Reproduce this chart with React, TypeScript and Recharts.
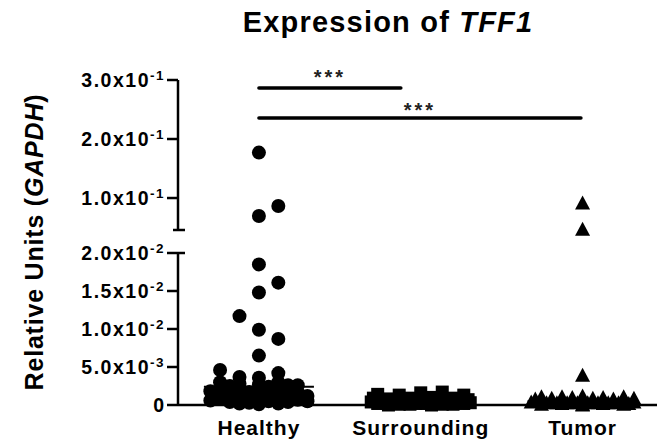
import React from "react";
import { ReferenceLine, Scatter, ScatterChart, XAxis, YAxis } from "recharts";

const FONT = "'Liberation Sans', Arial, sans-serif";
const W = 657;
const H = 443;

const CATEGORIES = ["Healthy", "Surrounding", "Tumor"];
// horizontal spread between neighbouring lanes, per group
const LANE_STEP = [0.12, 0.133, 0.127];

// [lane, relative units]
const healthy: [number, number][] = [
  [0, 0.177], [0, 0.0695], [1, 0.0864],
  [0, 0.0185], [1, 0.0161], [0, 0.0148], [-1, 0.0117], [0, 0.0099], [1, 0.0087], [0, 0.0065],
  [-2, 0.0046], [-1, 0.0037], [0, 0.0036], [1, 0.0042], [2, 0.0026],
  [-2, 0.003], [-1, 0.0028], [0, 0.0027], [1, 0.003], [-1.5, 0.0025], [0.5, 0.0024], [1.5, 0.0026],
  [-2.5, 0.0018], [-2, 0.0015], [-1, 0.002], [0, 0.0021], [1, 0.0019], [2, 0.0017], [2.5, 0.0012],
  [-1.5, 0.0016], [-0.5, 0.0017], [0.5, 0.0015], [1.5, 0.0014],
  [-2, 0.0008], [-1, 0.001], [0, 0.0009], [1, 0.0008], [2, 0.0007],
  [-2.5, 0.0006], [-1.5, 0.0004], [-0.5, 0.0003], [0.5, 0.0005], [1.5, 0.0004], [2.5, 0.0005], [0, 0.0001],
  [-1, 0.0002], [1, 0.0002],
];

const surrounding: [number, number][] = [
  [-2, 0.0014], [-1, 0.0013], [0, 0.0016], [1, 0.0017], [2, 0.0013],
  [-2.2, 0.0009], [-1.5, 0.0008], [-1, 0.0007], [-0.5, 0.0009], [0, 0.0008],
  [0.5, 0.001], [1, 0.0008], [1.5, 0.0009], [2, 0.0006], [2.2, 0.0007],
  [-2, 0.0002], [-1, 0.0001], [0, 0.0002], [1, 0.0001], [2, 0.0002],
  [-1.5, 0], [-0.5, 0.0001], [0.5, 0], [1.5, 0.0001], [-2.3, 0.0004], [2.3, 0.0003],
];

const tumor: [number, number][] = [
  [0, 0.0915], [0, 0.047], [0, 0.0039],
  [-2, 0.0011], [-1, 0.0011], [0, 0.0012], [1, 0.001], [2, 0.0011],
  [-2.3, 0.0008], [-1.5, 0.0009], [-0.5, 0.001], [0.5, 0.0009], [1.5, 0.0008], [2.5, 0.0009],
  [-2.5, 0.0004], [-1.5, 0.0006], [-0.5, 0.0005], [0.5, 0.0006], [1.5, 0.0005], [2.5, 0.0004],
  [-2, 0.0005], [-1, 0.0005], [0, 0.0006], [1, 0.0004], [2, 0.0006],
  [-1.75, 0.0003], [-1.25, 0.0003], [-0.75, 0.0003], [-0.25, 0.0003], [0.25, 0.0003], [0.75, 0.0003], [1.25, 0.0003], [1.75, 0.0003], [2.25, 0.0002],
  [-2, 0.0001], [-1, 0.0002], [0, 0.0001], [1, 0.0002], [2, 0.0001], [0, 0],
];

const MEDIANS = [0.0024, 0.0007, 0.0005];

const BREAK = 0.02;
const UPPER_DOMAIN = [0.0458, 0.3];
const UPPER_TICKS = [0.1, 0.2, 0.3];
const LOWER_DOMAIN = [0, 0.02];
const LOWER_TICKS = [0, 0.005, 0.01, 0.015, 0.02];

// significance brackets: [from category, to, y level, label]
const BRACKETS: [number, number, number, string][] = [
  [1, 1.877, 0.2864, "***"],
  [1, 2.99, 0.2356, "***"],
];

const toPoints = (rows: [number, number][], g: number, upper: boolean) =>
  rows
    .filter(([, v]) => (upper ? v > BREAK : v <= BREAK))
    .map(([lane, v]) => ({ x: g + 1 + lane * LANE_STEP[g], y: v }));

const Circle = (p: any) => <circle cx={p.cx} cy={p.cy} r={7} fill="#000" />;
const Square = (p: any) => <rect x={p.cx - 6.5} y={p.cy - 6.5} width={13} height={13} fill="#000" />;
const Triangle = (p: any) => (
  <polygon points={`${p.cx},${p.cy - 7.5} ${p.cx + 7.5},${p.cy + 6.5} ${p.cx - 7.5},${p.cy + 6.5}`} fill="#000" />
);
const SHAPES = [Circle, Square, Triangle];
const GROUPS = [healthy, surrounding, tumor];

function YTick(props: any) {
  const { x, y, payload } = props;
  const v = payload.value;
  const common = { fontFamily: FONT, fontWeight: "bold", fill: "#000", textAnchor: "end" as const };
  if (v === 0) {
    return (
      <text x={x - 1} y={y} dy={7} fontSize={19.5} {...common}>
        0
      </text>
    );
  }
  const exp = Math.floor(Math.log10(v) + 1e-9);
  const mant = (v / Math.pow(10, exp)).toFixed(1);
  return (
    <text x={x} y={y} fontSize={19.5} letterSpacing={1.5} {...common}>
      <tspan dy={7}>{mant}x10</tspan>
      <tspan fontSize={13.5} dy={-7}>
        {exp}
      </tspan>
    </text>
  );
}

function XTick(props: any) {
  const { x, y, payload } = props;
  return (
    <text x={x} y={y} dy={23} textAnchor="middle" fontFamily={FONT} fontWeight="bold" fontSize={21} letterSpacing={1} fill="#000">
      {CATEGORIES[payload.value - 1]}
    </text>
  );
}

const axisLine = { stroke: "#000", strokeWidth: 2.5 };
const tickLine = { stroke: "#000", strokeWidth: 2.5 };

function UpperPanel() {
  return (
    <ScatterChart width={W} height={H} margin={{ top: 80, right: 0, bottom: 213, left: 78 }}>
      <XAxis type="number" dataKey="x" domain={[0.5, 3.46]} hide />
      <YAxis
        type="number"
        dataKey="y"
        domain={UPPER_DOMAIN}
        ticks={UPPER_TICKS}
        width={100}
        tickSize={11}
        axisLine={axisLine}
        tickLine={tickLine}
        tick={<YTick />}
        interval={0}
      />
      {GROUPS.map((rows, g) => (
        <Scatter key={g} data={toPoints(rows, g, true)} shape={SHAPES[g]} isAnimationActive={false} />
      ))}
      {BRACKETS.map(([a, b, y, txt], i) => (
        <ReferenceLine
          key={i}
          segment={[
            { x: a, y },
            { x: b, y },
          ]}
          stroke="#000"
          strokeWidth={3.5}
          strokeLinecap="round"
          label={{
            value: txt,
            position: "top",
            offset: i === 0 ? 4 : 1,
            fill: "#222",
            fontSize: 20,
            fontFamily: FONT,
            fontWeight: "bold",
            letterSpacing: 3,
          }}
        />
      ))}
    </ScatterChart>
  );
}

function LowerPanel() {
  return (
    <ScatterChart width={W} height={H} margin={{ top: 253, right: 0, bottom: 0, left: 78 }}>
      <XAxis
        type="number"
        dataKey="x"
        domain={[0.5, 3.46]}
        ticks={[1, 2, 3]}
        height={38}
        tickSize={5}
        axisLine={axisLine}
        tickLine={tickLine}
        tick={<XTick />}
        interval={0}
      />
      <YAxis
        type="number"
        dataKey="y"
        domain={LOWER_DOMAIN}
        ticks={LOWER_TICKS}
        width={100}
        tickSize={11}
        axisLine={axisLine}
        tickLine={tickLine}
        tick={<YTick />}
        interval={0}
      />
      {GROUPS.map((rows, g) => (
        <Scatter key={g} data={toPoints(rows, g, false)} shape={SHAPES[g]} isAnimationActive={false} />
      ))}
      {MEDIANS.map((m, g) => (
        <ReferenceLine
          key={g}
          segment={[
            { x: g + 1 - 0.34, y: m },
            { x: g + 1 + 0.34, y: m },
          ]}
          stroke="#000"
          strokeWidth={2}
        />
      ))}
    </ScatterChart>
  );
}

export default function App() {
  return (
    <div style={{ position: "fixed", left: 0, top: 0, width: W, height: H, background: "#fff", overflow: "hidden" }}>
      <div style={{ position: "absolute", left: 0, top: 0 }}>
        <UpperPanel />
      </div>
      <div style={{ position: "absolute", left: 0, top: 0 }}>
        <LowerPanel />
      </div>
      <svg width={W} height={H} style={{ position: "absolute", left: 0, top: 0, pointerEvents: "none" }}>
        <text x={388} y={32} textAnchor="middle" fontFamily={FONT} fontWeight="bold" fontSize={29} letterSpacing={1.2} fill="#000">
          Expression of <tspan fontStyle="italic">TFF1</tspan>
        </text>
        <text
          transform="translate(43,242) rotate(-90)"
          textAnchor="middle"
          fontFamily={FONT}
          fontWeight="bold"
          fontSize={25}
          letterSpacing={0.8}
          fill="#000"
        >
          Relative Units (<tspan fontStyle="italic">GAPDH</tspan>)
        </text>
        {/* axis break caps */}
        <line x1={173} y1={230} x2={185} y2={230} stroke="#000" strokeWidth={2.5} />
        <line x1={178} y1={253} x2={185} y2={253} stroke="#000" strokeWidth={2.5} />
      </svg>
    </div>
  );
}
